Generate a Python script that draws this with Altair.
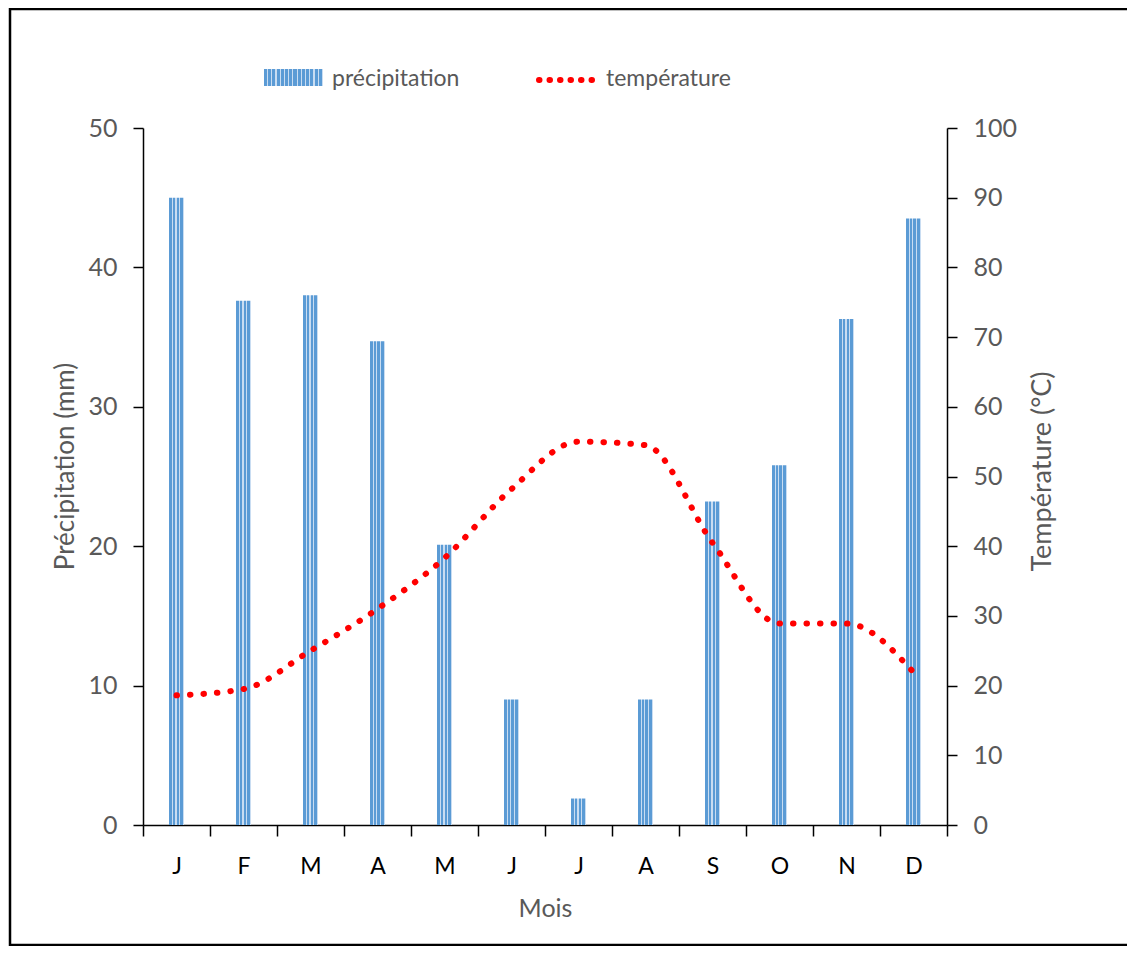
import altair as alt
import pandas as pd

# ---- data ----
months = ["Janvier", "Février", "Mars", "Avril", "Mai", "Juin",
          "Juillet", "Août", "Septembre", "Octobre", "Novembre", "Décembre"]
precip = [45.0, 37.6, 38.0, 34.7, 20.1, 9.0, 1.9, 9.0, 23.2, 25.8, 36.3, 43.5]
temp = [18.6, 19.5, 25.0, 31.0, 38.3, 48.2, 55.0, 54.5, 40.5, 28.9, 28.9, 21.9]
left_ticks = [0, 10, 20, 30, 40, 50]
right_ticks = [0, 10, 20, 30, 40, 50, 60, 70, 80, 90, 100]
legend_labels = ["précipitation", "température"]

df = pd.DataFrame({"mois": months, "precip": precip, "temp": temp})

W, H = 804, 697
FONT = "Lato"
GREY = "#595959"
BLUE = "#5B9BD5"
LIGHT = "#C9DDF2"
RED = "#FF0000"


def striped(n):
    # textured fill (vertical light stripes), n blue stripes
    st = []
    step = 1.0 / n
    for i in range(n):
        a = i * step
        b = a + step * 0.72
        c = a + step
        st += [alt.GradientStop(offset=a, color=BLUE), alt.GradientStop(offset=b, color=BLUE),
               alt.GradientStop(offset=b, color=LIGHT), alt.GradientStop(offset=min(c, 1.0), color=LIGHT)]
    return alt.Gradient(gradient="linear", x1=0, x2=1, y1=0, y2=0, stops=st)


bar_fill = striped(4)
leg_fill = striped(14)

x_enc = alt.X(
    "mois:N", sort=months, title="Mois",
    scale=alt.Scale(paddingInner=0, paddingOuter=0),
    axis=alt.Axis(
        labelExpr="substring(datum.label, 0, 1)", tickBand="extent", labelAngle=0,
        tickSize=11, labelPadding=19, titlePadding=18,
        labelColor="#000000", labelFontSize=23, labelFont=FONT,
        titleColor=GREY, titleFontSize=25, titleFont=FONT, titleFontWeight="normal",
        domainColor="#000000", domainWidth=1.5, tickColor="#000000", tickWidth=1.5,
    ),
)

bars = alt.Chart(df).mark_bar(size=15, fill=bar_fill).encode(
    x=x_enc,
    y=alt.Y(
        "precip:Q",
        scale=alt.Scale(domain=[0, 50], nice=False),
        axis=alt.Axis(
            orient="left", values=left_ticks, title="Précipitation (mm)", grid=False,
            tickSize=10, labelPadding=16, labelColor=GREY, labelFontSize=25, labelFont=FONT,
            titleColor=GREY, titleFontSize=26, titleFont=FONT, titleFontWeight="normal",
            titleAngle=270, titleX=-78, titleY=338, titleAlign="center", titleBaseline="middle",
            domainColor="#000000", domainWidth=1.5, tickColor="#000000", tickWidth=1.5,
        ),
    ),
)

line = alt.Chart(df).mark_line(
    color=RED, strokeWidth=6, strokeCap="round", strokeDash=[0.5, 13],
    interpolate="monotone",
).encode(
    x=x_enc,
    y=alt.Y(
        "temp:Q",
        scale=alt.Scale(domain=[0, 100], nice=False),
        axis=alt.Axis(
            orient="right", values=right_ticks, title="Température (°C)", grid=False,
            tickSize=10, labelPadding=16, labelColor=GREY, labelFontSize=25, labelFont=FONT,
            titleColor=GREY, titleFontSize=27, titleFont=FONT, titleFontWeight="normal",
            titleAngle=270, titleX=95, titleY=343, titleAlign="center", titleBaseline="middle",
            domainColor="#000000", domainWidth=1.5, tickColor="#000000", tickWidth=1.5,
        ),
    ),
)

one = pd.DataFrame({"k": [0]})

leg_rect = alt.Chart(one).mark_rect(fill=leg_fill).encode(
    x=alt.value(121), x2=alt.value(180), y=alt.value(-59), y2=alt.value(-42)
)
leg_text1 = alt.Chart(one).mark_text(
    align="left", baseline="alphabetic", font=FONT, fontSize=23, color=GREY
).encode(x=alt.value(189), y=alt.value(-42), text=alt.value(legend_labels[0]))
leg_rule = alt.Chart(one).mark_rule(
    color=RED, strokeWidth=6, strokeCap="round", strokeDash=[0.5, 10]
).encode(x=alt.value(396), x2=alt.value(456), y=alt.value(-48))
leg_text2 = alt.Chart(one).mark_text(
    align="left", baseline="alphabetic", font=FONT, fontSize=23, color=GREY
).encode(x=alt.value(463), y=alt.value(-42), text=alt.value(legend_labels[1]))

frame = alt.Chart(one).mark_rect(fillOpacity=0, stroke="#000000", strokeWidth=2.5).encode(
    x=alt.value(-133), x2=alt.value(988), y=alt.value(-119), y2=alt.value(817)
)

chart = (
    alt.layer(bars, line, leg_rect, leg_text1, leg_rule, leg_text2, frame)
    .resolve_scale(y="independent")
    .properties(
        width=W, height=H,
        autosize=alt.AutoSizeParams(type="none"),
        padding={"left": 135, "top": 120, "right": 180, "bottom": 121},
        background="#FFFFFF",
    )
    .configure_view(stroke=None)
)

chart.save("out.html", embed_options={"renderer": "svg", "actions": False})
